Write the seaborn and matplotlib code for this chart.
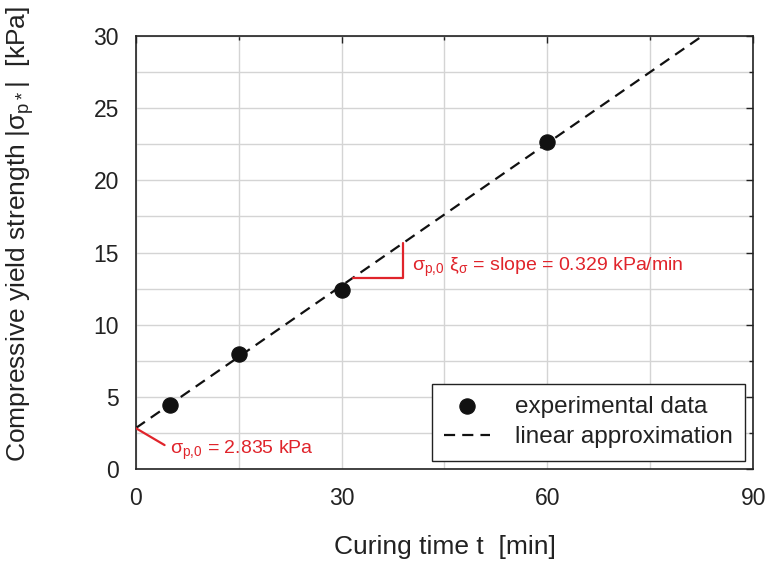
import numpy as np
import pandas as pd
import matplotlib
matplotlib.use('Agg')
import matplotlib.pyplot as plt
import seaborn as sns

curing_time = [5, 15, 30, 60]
yield_strength = [4.45, 8.0, 12.4, 22.65]

# linear approximation parameters (given on the chart)
intercept = 2.835
slope = 0.329
fit_t = [0, 90]

x_major = [0, 30, 60, 90]
x_minor = [15, 45, 75]
y_major = [0, 5, 10, 15, 20, 25, 30]
y_minor = [2.5, 7.5, 12.5, 17.5, 22.5, 27.5]

sns.set_style('white')
plt.rcParams['font.family'] = ['Liberation Sans', 'DejaVu Sans']
plt.rcParams['mathtext.fontset'] = 'custom'
plt.rcParams['mathtext.rm'] = 'Liberation Sans'

df = pd.DataFrame({'t': curing_time, 'sigma': yield_strength})
fit = pd.DataFrame({'t': fit_t, 'sigma': [intercept + slope * t for t in fit_t]})

fig = plt.figure(figsize=(7.67, 5.72), dpi=100)
ax = fig.add_axes([0.177, 0.180, 0.805, 0.757])

sns.lineplot(data=fit, x='t', y='sigma', ax=ax, color='#111111', linewidth=1.6,
             dashes=False, linestyle=(0, (5, 3.2)), label='linear approximation', zorder=3)
sns.scatterplot(data=df, x='t', y='sigma', ax=ax, color='#111111', s=120,
                edgecolor='#111111', label='experimental data', zorder=4)

ax.set_xlim(0, 90)
ax.set_ylim(0, 30)
ax.set_xticks(x_major)
ax.set_xticks(x_minor, minor=True)
ax.set_yticks(y_major)
ax.set_yticks(y_minor, minor=True)
ax.grid(True, which='both', color='#d4d4d4', linewidth=1.0, zorder=0)
ax.set_axisbelow(True)
ax.tick_params(which='both', direction='in', top=True, right=True, color='#222222')
ax.tick_params(which='major', length=5, width=1)
ax.tick_params(which='minor', length=3, width=1)
ax.tick_params(axis='x', which='major', pad=13, labelsize=16.5, labelcolor='#222222')
ax.tick_params(axis='y', which='major', pad=12, labelsize=16.5, labelcolor='#222222')
for sp in ax.spines.values():
    sp.set_color('#222222')
    sp.set_linewidth(1.2)

ax.set_xlabel('Curing time t  [min]', fontsize=19, labelpad=18, color='#222222')
ax.set_ylabel('Compressive yield strength |σ$_{\\mathregular{p*}}$|  [kPa]',
              fontsize=19, color='#222222', va='center')
ax.yaxis.set_label_coords(-0.188, 0.543)

# intercept annotation
red = '#e0242b'
ax.plot([0, 4.2], [intercept, 1.66], color=red, linewidth=1.6, zorder=5)
ax.text(5.0, 1.3, 'σ$_{\\mathregular{p{,}0}}$ = 2.835 kPa', color=red, fontsize=14,
        va='center', ha='left')

# slope triangle
t0, t1 = 31.7, 38.9
y0 = intercept + slope * t0
y1 = intercept + slope * t1
ax.plot([t0, t1, t1], [y0, y0, y1], color=red, linewidth=1.6, zorder=5)
ax.text(40.2, 14.0, 'σ$_{\\mathregular{p{,}0}}$ ξ$_{\\mathregular{σ}}$ = slope = 0.329 kPa/min',
        color=red, fontsize=14, va='center', ha='left')

handles, labels = ax.get_legend_handles_labels()
order = [1, 0]
leg = ax.legend([handles[i] for i in order], [labels[i] for i in order],
                loc='lower right', fontsize=17.5, frameon=True, fancybox=False,
                edgecolor='#222222', framealpha=1, borderaxespad=0.35,
                handlelength=1.9, handletextpad=1.0, borderpad=0.5, labelspacing=0.35)
leg.get_frame().set_linewidth(1.0)
for txt in leg.get_texts():
    txt.set_color('#222222')

fig.savefig('out.png', dpi=100)
